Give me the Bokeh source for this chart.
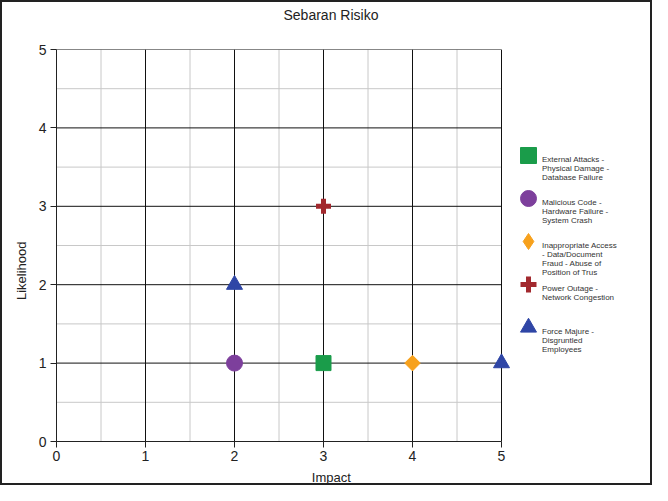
import math
from bokeh.plotting import figure
from bokeh.models import FixedTicker, Legend, LegendItem, Title
from bokeh.embed import file_html
from bokeh.resources import INLINE

title_text = "Sebaran Risiko"
x_label = "Impact"
y_label = "Likelihood"
ticks = [0, 1, 2, 3, 4, 5]
minor = [0.5, 1.5, 2.5, 3.5, 4.5]

series_names = [
    ["External Attacks -", "Physical Damage -", "Database Failure"],
    ["Malicious Code -", "Hardware Failure -", "System Crash"],
    ["Inappropriate Access", "- Data/Document", "Fraud - Abuse of", "Position of Trus"],
    ["Power Outage -", "Network Congestion"],
    ["Force Majure -", "Disgruntled", "Employees"],
]
series_impact = [[3], [2], [4], [3], [2, 5]]
series_likelihood = [[1], [1], [1], [3], [2, 1]]
series_marker = ["square", "circle", "square", "cross", "triangle"]
series_angle = [0, 0, math.pi / 4, 0, 0]
series_legend_marker = ["square", "circle", "diamond", "cross", "triangle"]
series_size = [15, 16, 11, 15, 16]
series_width = [1, 1, 1, 5, 1]
series_color = ["#1a9c4a", "#7d3f9c", "#f7a11c", "#a2292e", "#2f46a6"]

# layout constants (pixels)
W, H = 652, 485
BL, BR, BT, BB = 54, 5, 47, 46
plot_px = 445  # pixel width of the 0..5 data area
frame_w = W - BL - BR
x_end = ticks[-1] * frame_w / plot_px
NB = "\u00a0"

p = figure(width=W, height=H, x_range=(ticks[0], x_end), y_range=(ticks[0], ticks[-1]),
           output_backend="svg", toolbar_location=None,
           min_border_left=BL, min_border_right=BR, min_border_top=BT, min_border_bottom=BB)
p.styles = {"border": "2px solid #222", "box-sizing": "border-box"}
p.outline_line_color = None
p.background_fill_color = "white"
p.border_fill_color = "white"
p.xgrid.visible = False
p.ygrid.visible = False

lo, hi = ticks[0], ticks[-1]
# minor grid
p.segment(x0=minor, y0=[lo] * len(minor), x1=minor, y1=[hi] * len(minor), line_color="#c8c8c8", line_width=1)
p.segment(x0=[lo] * len(minor), y0=minor, x1=[hi] * len(minor), y1=minor, line_color="#c8c8c8", line_width=1)
# major grid
p.segment(x0=ticks, y0=[lo] * len(ticks), x1=ticks, y1=[hi] * len(ticks), line_color="#111111", line_width=1)
p.segment(x0=[lo] * len(ticks), y0=ticks, x1=[hi] * len(ticks), y1=ticks, line_color="#111111", line_width=1)

for ax in (p.xaxis[0], p.yaxis[0]):
    ax.ticker = FixedTicker(ticks=ticks, minor_ticks=[])
    ax.bounds = (lo, hi)
    ax.axis_label_text_font = "Liberation Sans"
    ax.axis_label_text_font_style = "normal"
    ax.axis_label_text_font_size = "13px"
    ax.axis_label_text_color = "#222"
    ax.major_label_text_font = "Liberation Sans"
    ax.major_label_text_font_size = "14px"
    ax.major_label_text_color = "#222"
    ax.axis_line_color = "#222"
    ax.major_tick_line_color = "#222"
    ax.major_tick_out = 6
    ax.major_tick_in = 0
    ax.minor_tick_line_color = None
# trailing no-break spaces centre the axis titles on the 0..5 area like the reference
p.xaxis[0].axis_label = x_label + NB * 12
p.yaxis[0].axis_label = y_label + NB * 14
p.xaxis[0].major_label_standoff = 3
p.yaxis[0].major_label_standoff = 4
p.xaxis[0].axis_label_standoff = 6
p.yaxis[0].axis_label_standoff = 7

renderers = []
legend_renderers = []
for xs, ys, mk, lmk, ang, sz, lw, col in zip(series_impact, series_likelihood, series_marker,
                                             series_legend_marker, series_angle, series_size,
                                             series_width, series_color):
    lr = None
    if lmk != mk:
        # legend-shaped twin drawn underneath (hidden by the main marker)
        lr = p.scatter(xs, ys, marker=lmk, size=sz, fill_color=col, line_color=col, line_width=lw)
    r = p.scatter(xs, ys, marker=mk, angle=ang, size=sz, fill_color=col, line_color=col, line_width=lw)
    renderers.append(r)
    legend_renderers.append(lr if lr is not None else r)

common = dict(border_line_color=None, background_fill_alpha=0, label_text_font="Liberation Sans",
              label_text_font_size="8px", label_text_color="#333", label_text_line_height=1.35,
              glyph_height=40, label_height=40, spacing=3, padding=0, margin=0)

# legend markers
legend_marks = Legend(items=[LegendItem(label=" ", renderers=[r]) for r in legend_renderers],
                      location=(452, 94), glyph_width=40, label_standoff=0, **common)
# legend texts (lines padded to 4 so that the first line sits next to the marker)
legend_texts = Legend(items=[LegendItem(label="\n".join(lines + [" "] * (4 - len(lines))), renderers=[r])
                             for lines, r in zip(series_names, renderers)],
                      location=(486, 76), glyph_width=0, label_standoff=0, **common)
p.add_layout(legend_marks, "center")
p.add_layout(legend_texts, "center")

# spacer title (closest to the frame) pushes the main title up
p.add_layout(Title(text=" ", text_font_size="10px", standoff=14), "above")

p.title.text = title_text
p.title.align = "left"
p.title.offset = 227
p.title.standoff = 0
p.title.text_font = "Liberation Sans"
p.title.text_font_style = "normal"
p.title.text_font_size = "14px"
p.title.text_color = "#222"

open("out.html", "w").write(file_html(p, INLINE))
